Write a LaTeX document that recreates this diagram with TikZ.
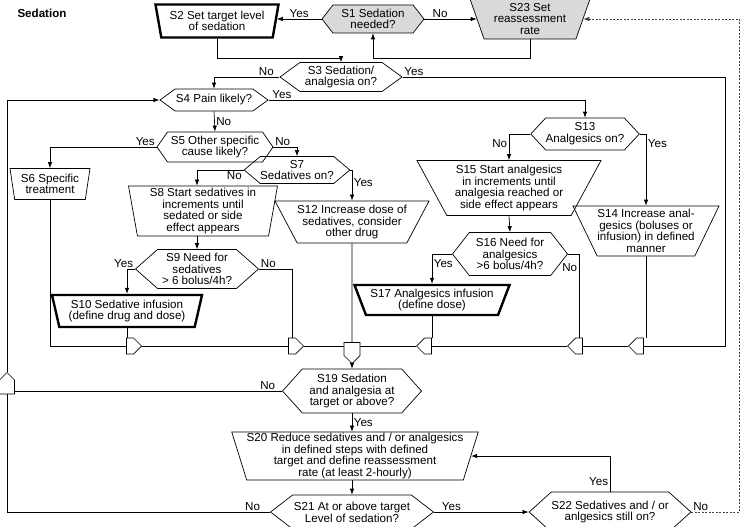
\documentclass[tikz,border=0pt]{standalone}
\usepackage{fontspec}
\setmainfont{Liberation Sans}
\usetikzlibrary{arrows.meta,shapes.geometric,shapes.symbols}
\tikzset{>={Latex[width=4.5pt,length=6pt]}}
\newcommand\fs{\fontsize{11.6}{11.7}\selectfont}
\tikzset{
  box/.style={draw, line width=0.7pt, align=center, inner sep=0pt, font=\fs},
  ask/.style={box, signal, signal to=east and west},
  act/.style={box, trapezium, shape border rotate=180, trapezium stretches body},
  key/.style={line width=2.4pt},
  shade/.style={fill=black!15},
  merge/.style={draw, line width=0.7pt, signal, inner sep=0pt, minimum width=15pt, minimum height=16pt},
  lbl/.style={font=\fs, inner sep=1.5pt},
}

\begin{document}
\begin{tikzpicture}[x=1pt, y=-1pt, line width=0.7pt]

  \useasboundingbox (0,0) rectangle (744,527);

  \node[lbl, font=\fs\bfseries] (title) at (42,13) {Sedation};

  %% steps, top half
  \node[ask, shade, minimum width=102pt, minimum height=28pt, signal pointer angle=104] (s1) at (373,19) {S1 Sedation\\needed?};
  \node[act, key, minimum width=123pt, minimum height=33pt, trapezium angle=74] (s2) at (217,21) {S2 Set target level\\of sedation};
  \node[act, shade, minimum width=120pt, minimum height=40pt, trapezium angle=66] (s23) at (530,19) {S23 Set\\reassessment\\rate};
  \node[ask, minimum width=122pt, minimum height=29pt, signal pointer angle=72] (s3) at (341,77) {S3 Sedation/\\analgesia on?};
  \node[ask, minimum width=108pt, minimum height=22pt, signal pointer angle=72] (s4) at (214,100) {S4 Pain likely?};
  \node[ask, minimum width=116pt, minimum height=30pt, signal pointer angle=110] (s5) at (215,147) {S5 Other specific\\cause likely?};
  \node[act, minimum width=80pt, minimum height=31pt, trapezium angle=77] (s6) at (50,184) {S6 Specific\\treatment};
  \node[ask, minimum width=101pt, minimum height=27pt, signal pointer angle=80] (s7) at (297,170) {S7\\Sedatives on?};
  \node[act, minimum width=149pt, minimum height=50pt, trapezium angle=79] (s8) at (203,211) {S8 Start sedatives in\\increments until\\sedated or side\\effect appears};
  \node[ask, minimum width=123pt, minimum height=39pt, signal pointer angle=83] (s9) at (197,269) {S9 Need for\\sedatives\\> 6 bolus/4h?};
  \node[act, key, minimum width=150pt, minimum height=32pt, trapezium angle=72] (s10) at (127,311) {S10 Sedative infusion\\(define drug and dose)};
  \node[act, minimum width=154pt, minimum height=42pt, trapezium angle=57] (s12) at (352,222) {S12 Increase dose of\\sedatives, consider\\other drug};
  \node[ask, minimum width=108pt, minimum height=32pt, signal pointer angle=94] (s13) at (585,134) {S13\\Analgesics on?};
  \node[act, minimum width=146pt, minimum height=50pt, trapezium angle=61] (s14) at (646,231) {S14 Increase anal-\\gesics (boluses or\\infusion) in defined\\manner};
  \node[act, minimum width=184pt, minimum height=55pt, trapezium angle=57] (s15) at (509,188) {S15 Start analgesics\\in increments until\\analgesia reached or\\side effect appears};
  \node[ask, minimum width=115pt, minimum height=43pt, signal pointer angle=104] (s16) at (510,254) {S16 Need for\\analgesics\\>6 bolus/4h?};
  \node[act, key, minimum width=155pt, minimum height=30pt, trapezium angle=63] (s17) at (432,300) {S17 Analgesics infusion\\(define dose)};

  %% steps, bottom half
  \node[ask, minimum width=139pt, minimum height=44pt, signal pointer angle=96] (s19) at (352,391) {S19 Sedation\\and analgesia at\\target or above?};
  \node[act, minimum width=246pt, minimum height=48pt, trapezium angle=72] (s20) at (355,456) {S20 Reduce sedatives and / or analgesics\\in defined steps with defined\\target and define reassessment\\rate (at least 2-hourly)};
  \node[ask, minimum width=163pt, minimum height=34pt, signal pointer angle=75] (s21) at (352,512) {S21 At or above target\\Level of sedation?};
  \node[ask, minimum width=155pt, minimum height=40pt, signal pointer angle=84] (s22) at (610,512) {S22 Sedatives and / or\\anlgesics still on?};

  %% merge points
  \node[merge, signal to=east] (m10) at (130,346) {};
  \node[merge, signal to=east] (m9) at (292,346) {};
  \node[merge, signal to=south, minimum width=16pt, minimum height=13pt] (m12) at (352,349) {};
  \node[merge, signal to=west] (m17) at (428,346) {};
  \node[merge, signal to=west] (m16) at (579,346) {};
  \node[merge, signal to=west] (m14) at (640,346) {};
  \node[merge, signal to=north, minimum width=15pt, minimum height=14pt] (m19) at (7,387) {};

  %% connectors
  \draw[->] (s1.west) -- node[lbl, above]{Yes} (s2.east |- s1.west); % S1->S2
  \draw[->] (s1.east) -- node[lbl, above, pos=0.3]{No} (s23.west |- s1.east); % S1->S23
  \draw[->] (s23.south) -- ++(0,19) -| (s1.south); % S23->S1
  \draw[->] (s2.south) -- ++(0,20) -| (s3.north); % S2->S3

  \draw[->] (s3.west) -| node[lbl, above, pos=0.1]{No} (s4.north); % S3->S4
  \draw (s3.east) node[lbl, above right]{Yes} -- ++(323,0) |- (m14.east); % S3->merge
  \draw[->] (s4.east) node[lbl, above right, xshift=2pt]{Yes} -| (s13.north); % S4->S13
  \draw[->] (s4.south) -- node[lbl, right]{No} (s5.north); % S4->S5

  \draw[->] (s5.west) node[lbl, above left]{Yes} -| (s6.north); % S5->S6
  \draw[->] (s5.east) node[lbl, above right]{No} -| (s7.north); % S5->S7
  \draw[->] (s7.west) node[lbl, below left]{No} -| (s8.north -| s9.north); % S7->S8
  \draw[->] (s7.east) -| node[lbl, right, pos=0.7]{Yes} (s12.north); % S7->S12
  \draw[->] (s8.south -| s9.north) -- (s9.north); % S8->S9
  \draw[->] (s9.west) node[lbl, above left]{Yes} -| (s10.north); % S9->S10
  \draw (s9.east) node[lbl, above right]{No} -| (m9.north); % S9->merge

  \draw[->] (s13.west) -| node[lbl, left, pos=0.68]{No} (s15.north); % S13->S15
  \draw[->] (s13.east) -| node[lbl, right, pos=0.57]{Yes} (s14.north); % S13->S14
  \draw[->] (s15.south) -- (s16.north); % S15->S16
  \draw[->] (s16.west) -| node[lbl, right, pos=0.66]{Yes} (s17.north); % S16->S17
  \draw (s16.east) -| node[lbl, left, pos=0.58]{No} (m16.north); % S16->merge

  %% merge line
  \draw (s6.south) |- (m10.west);
  \draw (s10.south) -- (s10.south |- m10.north);
  \draw (m10.east) -- (m9.west);
  \draw (m9.east) -- (m12.west |- m9.east);
  \draw (s12.south) -- (m12.north);
  \draw (m14.west) -- (m16.east);
  \draw (s14.south) -- (s14.south |- m14.north);
  \draw (m16.west) -- (m17.east);
  \draw (s17.south) -- (s17.south |- m17.north);
  \draw (m17.west) -- (m12.east |- m17.west);
  \draw[->] (m12.south) -- (s19.north);

  %% bottom
  \draw (s19.west) node[lbl, above left, xshift=-5pt]{No} -- (s19.west -| m19.east); % S19->merge
  \draw[->] (s19.south) -- node[lbl, right]{Yes} (s19.south |- s20.north); % S19->S20
  \draw[->] (s19.south |- s20.south) -- (s19.south |- s21.north); % S20->S21
  \draw (s21.west) node[lbl, above left, xshift=-8pt]{No} -- (s21.west -| m19.south) -- (m19.south); % S21->merge
  \draw[->] (m19.north) |- (s4.west); % merge->S4
  \draw[->] (s21.east) node[lbl, above right, xshift=6pt]{Yes} -- (s22.west); % S21->S22
  \draw[->] (s22.north) |- node[lbl, left, pos=0.14]{Yes} (s20.east); % S22->S20
  \draw[->, black!75, dash pattern=on 2pt off 1.5pt] (s22.east) node[lbl, above right, black]{No} -- ++(48,0) |- (s23.east); % S22->S23

\end{tikzpicture}
\end{document}
